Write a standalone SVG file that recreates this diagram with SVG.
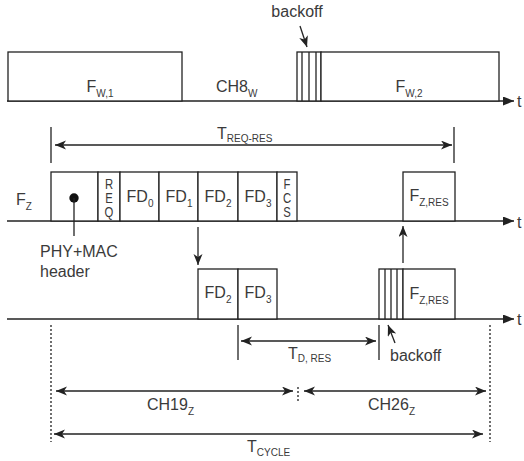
<svg xmlns="http://www.w3.org/2000/svg" width="524" height="461" viewBox="0 0 524 461">
<defs>
<marker id="ah" markerUnits="userSpaceOnUse" markerWidth="13" markerHeight="11" refX="11" refY="4.5" orient="auto-start-reverse">
<path d="M0,0 L11,4.5 L0,9 L3,4.5 z" fill="#222"/>
</marker>
<marker id="ax" markerUnits="userSpaceOnUse" markerWidth="13" markerHeight="11" refX="11" refY="4.5" orient="auto">
<path d="M0,0 L11,4.5 L0,9 z" fill="#222"/>
</marker>
</defs>
<style>
.ln{stroke:#222;stroke-width:1.3;fill:none}
.bx{stroke:#222;stroke-width:1.3;fill:#fff}
.dt{stroke:#222;stroke-width:1.3;stroke-dasharray:2 2;fill:none}
.tx{font-family:"Liberation Sans",Arial,sans-serif;font-size:16px;fill:#3a3a3a}
.sb{font-size:10px}
.vt{font-family:"Liberation Sans",Arial,sans-serif;font-size:14.5px;fill:#3a3a3a}
</style>
<rect width="524" height="461" fill="#fff"/>

<g id="axes">
<line class="ln" x1="7" y1="101" x2="514" y2="101" marker-end="url(#ax)"/>
<line class="ln" x1="7" y1="221" x2="514" y2="221" marker-end="url(#ax)"/>
<line class="ln" x1="7" y1="319" x2="514" y2="319" marker-end="url(#ax)"/>
<text class="tx" x="517" y="107">t</text>
<text class="tx" x="517" y="228">t</text>
<text class="tx" x="517" y="325">t</text>
</g>

<g id="fw1">
<rect class="bx" x="8" y="52" width="174" height="49"/>
<text class="tx" x="100" y="92" text-anchor="middle">F<tspan class="sb" dy="5">W,1</tspan></text>
</g>
<g id="ch8">
<text class="tx" x="216" y="92">CH8<tspan class="sb" dy="5">W</tspan></text>
</g>
<g id="backoff-top">
<rect class="bx" x="297" y="52" width="24" height="49"/>
<line class="ln" x1="302" y1="52" x2="302" y2="101"/>
<line class="ln" x1="309" y1="52" x2="309" y2="101"/>
<line class="ln" x1="316" y1="52" x2="316" y2="101"/>
<text class="tx" x="297" y="17" text-anchor="middle">backoff</text>
</g>
<g id="fw2">
<rect class="bx" x="321" y="52" width="178" height="49"/>
<text class="tx" x="409" y="92" text-anchor="middle">F<tspan class="sb" dy="5">W,2</tspan></text>
</g>

<g id="treqres">
<line class="ln" x1="51" y1="127" x2="51" y2="163"/>
<line class="ln" x1="454" y1="127" x2="454" y2="163"/>
<text class="tx" x="217" y="139">T<tspan class="sb" dy="3">REQ-RES</tspan></text>
</g>

<g id="fz">
<text class="tx" x="16" y="205">F<tspan class="sb" dy="5">Z</tspan></text>
</g>
<g id="header">
<rect class="bx" x="51" y="172" width="47" height="49"/>
</g>
<g id="req">
<rect class="bx" x="98" y="172" width="22" height="49"/>
<g transform="translate(109 0) scale(0.78 1)">
<text class="vt" text-anchor="middle"><tspan x="0" y="189.5">R</tspan><tspan x="0" y="203.5">E</tspan><tspan x="0" y="217.5">Q</tspan></text>
</g>
</g>
<g id="fd0">
<rect class="bx" x="120" y="172" width="39" height="49"/>
<text class="tx" x="140" y="202" text-anchor="middle">FD<tspan class="sb" dy="5">0</tspan></text>
</g>
<g id="fd1">
<rect class="bx" x="159" y="172" width="39" height="49"/>
<text class="tx" x="179" y="202" text-anchor="middle">FD<tspan class="sb" dy="5">1</tspan></text>
</g>
<g id="fd2">
<rect class="bx" x="198" y="172" width="40" height="49"/>
<text class="tx" x="218" y="202" text-anchor="middle">FD<tspan class="sb" dy="5">2</tspan></text>
</g>
<g id="fd3">
<rect class="bx" x="238" y="172" width="39" height="49"/>
<text class="tx" x="258" y="202" text-anchor="middle">FD<tspan class="sb" dy="5">3</tspan></text>
</g>
<g id="fcs">
<rect class="bx" x="277" y="172" width="20" height="49"/>
<g transform="translate(287 0) scale(0.78 1)">
<text class="vt" text-anchor="middle"><tspan x="0" y="189.5">F</tspan><tspan x="0" y="203.5">C</tspan><tspan x="0" y="217.5">S</tspan></text>
</g>
</g>
<g id="fzres1">
<rect class="bx" x="403" y="172" width="52" height="49"/>
<text class="tx" x="429" y="201" text-anchor="middle">F<tspan class="sb" dy="5">Z,RES</tspan></text>
</g>

<g id="phymac">
<circle cx="74" cy="198" r="4.7" fill="#111"/>
<line class="ln" x1="74" y1="198" x2="74" y2="236"/>
<text class="tx" x="40" y="257">PHY+MAC</text>
<text class="tx" x="40" y="277">header</text>
</g>

<g id="fd2b">
<rect class="bx" x="198" y="269" width="40" height="50"/>
<text class="tx" x="218" y="298" text-anchor="middle">FD<tspan class="sb" dy="5">2</tspan></text>
</g>
<g id="fd3b">
<rect class="bx" x="238" y="269" width="39" height="50"/>
<text class="tx" x="258" y="298" text-anchor="middle">FD<tspan class="sb" dy="5">3</tspan></text>
</g>
<g id="backoff-bottom">
<rect class="bx" x="379" y="269" width="24" height="50"/>
<line class="ln" x1="385" y1="269" x2="385" y2="319"/>
<line class="ln" x1="391" y1="269" x2="391" y2="319"/>
<line class="ln" x1="397" y1="269" x2="397" y2="319"/>
<text class="tx" x="390" y="361">backoff</text>
</g>
<g id="fzres2">
<rect class="bx" x="403" y="269" width="52" height="50"/>
<text class="tx" x="429" y="299" text-anchor="middle">F<tspan class="sb" dy="5">Z,RES</tspan></text>
</g>

<g id="tdres">
<line class="ln" x1="238" y1="325" x2="238" y2="360"/>
<line class="ln" x1="379" y1="325" x2="379" y2="360"/>
<text class="tx" x="288" y="359">T<tspan class="sb" dy="3">D, RES</tspan></text>
</g>

<g id="cycle-marks">
<line class="dt" x1="51" y1="325" x2="51" y2="442"/>
<line class="dt" x1="490" y1="325" x2="490" y2="442"/>
<line class="dt" x1="298" y1="387" x2="298" y2="402"/>
<text class="tx" x="147" y="410">CH19<tspan class="sb" dy="5">Z</tspan></text>
<text class="tx" x="368" y="410">CH26<tspan class="sb" dy="5">Z</tspan></text>
<text class="tx" x="247" y="452">T<tspan class="sb" dy="4">CYCLE</tspan></text>
</g>

<g id="connectors">
<line class="ln" x1="300" y1="26" x2="307" y2="47" marker-end="url(#ah)"/>
<line class="ln" x1="55" y1="145" x2="452" y2="145" marker-start="url(#ah)" marker-end="url(#ah)"/>
<line class="ln" x1="198" y1="227" x2="198" y2="265" marker-end="url(#ah)"/>
<line class="ln" x1="403" y1="263" x2="403" y2="226" marker-end="url(#ah)"/>
<line class="ln" x1="241" y1="341" x2="376" y2="341" marker-start="url(#ah)" marker-end="url(#ah)"/>
<line class="ln" x1="395" y1="343" x2="388" y2="325" marker-end="url(#ah)"/>
<line class="ln" x1="56" y1="391" x2="293" y2="391" marker-start="url(#ah)" marker-end="url(#ah)"/>
<line class="ln" x1="304" y1="391" x2="486" y2="391" marker-start="url(#ah)" marker-end="url(#ah)"/>
<line class="ln" x1="54" y1="434" x2="483" y2="434" marker-start="url(#ah)" marker-end="url(#ah)"/>
</g>
</svg>
